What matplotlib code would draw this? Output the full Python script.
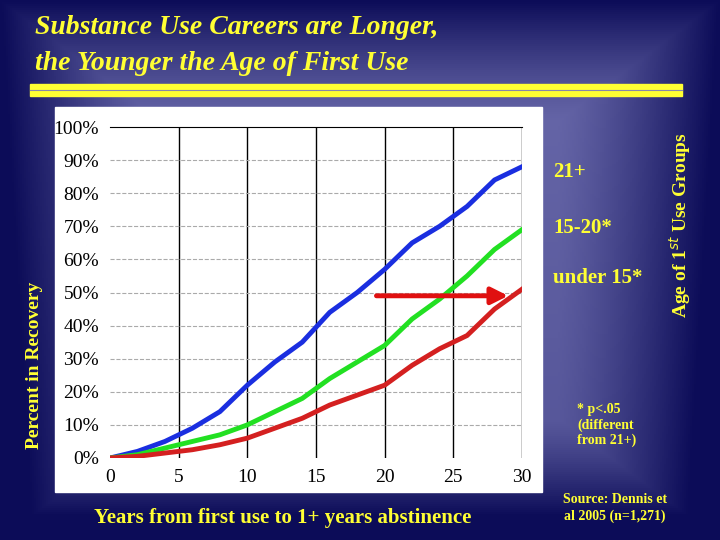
import numpy as np
import matplotlib
matplotlib.use("Agg")
import matplotlib.pyplot as plt
from matplotlib.patches import Rectangle

years = [0, 2, 4, 6, 8, 10, 12, 14, 16, 18, 20, 22, 24, 26, 28, 30]
grp_21 = [0, 2, 5, 9, 14, 22, 29, 35, 44, 50, 57, 65, 70, 76, 84, 88]
grp_15_20 = [0, 1, 3, 5, 7, 10, 14, 18, 24, 29, 34, 42, 48, 55, 63, 69]
grp_u15 = [0, 0.5, 1.5, 2.5, 4, 6, 9, 12, 16, 19, 22, 28, 33, 37, 45, 51]
yticks = [0, 10, 20, 30, 40, 50, 60, 70, 80, 90, 100]
xticks = [0, 5, 10, 15, 20, 25, 30]

YEL = "#ffff33"
fig = plt.figure(figsize=(7.2, 5.4), dpi=100)
bg = fig.add_axes([0, 0, 1, 1])
xx, yy = np.meshgrid(np.linspace(-1, 1, 360), np.linspace(-1, 1, 270))
d = np.maximum(np.abs(xx) ** 6, np.abs(yy) ** 6) ** (1 / 6)
v = np.clip((d - 0.55) / 0.45, 0, 1) ** 1.3 + 0.25 * (yy + 1) / 2
v = np.clip(v, 0, 1)
cmap = matplotlib.colors.LinearSegmentedColormap.from_list("b", ["#6464a6", "#0c0c58"])
bg.imshow(v, cmap=cmap, aspect="auto", extent=[0, 1, 0, 1], origin="upper")
bg.set_xlim(0, 1); bg.set_ylim(0, 1); bg.axis("off")
bg.add_patch(Rectangle((55/720, 1-492/540), 487/720, 385/540, color="white", zorder=2))
bg.add_patch(Rectangle((30/720, 1-96/540), 652/720, 12/540, color=YEL, zorder=2))
bg.plot([30/720, 682/720], [1-90/540]*2, color="#8888aa", lw=0.8, zorder=3)

serif = "Liberation Serif"
fig.text(35/720, 1-28/540, "Substance Use Careers are Longer,", color=YEL, fontsize=20,
         style="italic", fontweight="bold", family=serif, va="center")
fig.text(35/720, 1-64/540, "the Younger the Age of First Use", color=YEL, fontsize=20,
         style="italic", fontweight="bold", family=serif, va="center")

ax = fig.add_axes([110/720, 1-458/540, 412/720, 331/540])
ax.set_zorder(3)
for xv in xticks[1:]:
    ax.axvline(xv, color="black", lw=1)
for yv in yticks[1:-1]:
    ax.axhline(yv, color="#aaaaaa", lw=0.8, ls="--")
ax.plot(years, grp_21, color="#1a2ee0", lw=3.5)
ax.plot(years, grp_15_20, color="#22e022", lw=3.5)
ax.plot(years, grp_u15, color="#d42020", lw=3.5)
ax.annotate("", xy=(29.2, 49), xytext=(19.2, 49),
            arrowprops=dict(arrowstyle="-|>", color="#e01010", lw=3.5, mutation_scale=25))
ax.set_xlim(0, 30); ax.set_ylim(0, 100)
ax.set_yticks(yticks)
ax.set_yticklabels([f"{v}%" for v in yticks], family=serif, fontsize=14)
ax.set_xticks(xticks)
ax.set_xticklabels([str(v) for v in xticks], family=serif, fontsize=14)
ax.tick_params(length=0, pad=8)
for k in ["left", "right", "bottom"]:
    ax.spines[k].set_visible(False)
ax.spines["top"].set_color("black")
ax.patch.set_alpha(0)

fig.text(283/720, 1-518/540, "Years from first use to 1+ years abstinence", family=serif,
         fontsize=15, fontweight="bold", color=YEL, ha="center", va="center", zorder=5)
fig.text(35/720, 1-365/540, "Percent in Recovery", color=YEL, family=serif, fontsize=14,
         fontweight="bold", rotation=90, ha="center", va="center")
fig.text(680/720, 1-225/540, "Age of 1$^{st}$ Use Groups", color=YEL, family=serif, fontsize=14,
         fontweight="bold", rotation=90, ha="center", va="center")
for txt, y in [("21+", 172), ("15-20*", 228), ("under 15*", 278)]:
    fig.text(553/720, 1-y/540, txt, color=YEL, family=serif, fontsize=15, fontweight="bold", va="center")
fig.text(577/720, 1-425/540, "* p<.05\n(different\nfrom 21+)", color=YEL, family=serif,
         fontsize=10, fontweight="bold", va="center", linespacing=1.2)
fig.text(615/720, 1-508/540, "Source: Dennis et\nal 2005 (n=1,271)", color=YEL, family=serif,
         fontsize=10, fontweight="bold", ha="center", va="center", linespacing=1.3)
fig.savefig("out.png", dpi=100)
